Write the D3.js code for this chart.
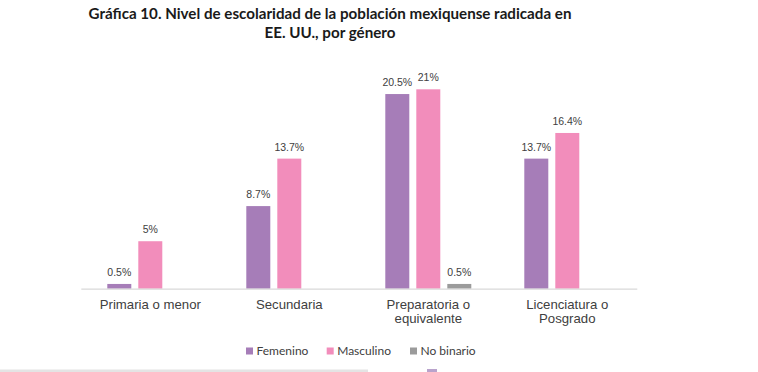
<!DOCTYPE html>
<html>
<head>
<meta charset="utf-8">
<script src="https://cdn.jsdelivr.net/npm/d3@7"></script>
<style>
  html, body { margin: 0; padding: 0; background: #fff; }
  svg { display: block; }
</style>
</head>
<body>
<div id="chart"></div>
<script>
const categories = [["Primaria o menor"], ["Secundaria"], ["Preparatoria o", "equivalente"], ["Licenciatura o", "Posgrado"]];
const seriesNames = ["Femenino", "Masculino", "No binario"];
const femenino = [0.5, 8.7, 20.5, 13.7];
const masculino = [5, 13.7, 21, 16.4];
const noBinario = [null, null, 0.5, null];
const valueLabels = [
  ["0.5%", "8.7%", "20.5%", "13.7%"],
  ["5%", "13.7%", "21%", "16.4%"],
  [null, null, "0.5%", null]
];
const titleLines = ["Gráfica 10. Nivel de escolaridad de la población mexiquense radicada en", "EE. UU., por género"];

const colors = ["#a67db8", "#f28dbb", "#9b9b9b"];
const seriesValues = [femenino, masculino, noBinario];

const W = 758, H = 372;
const svg = d3.select("#chart").append("svg").attr("width", W).attr("height", H);

// Title
const title = svg.append("text")
  .attr("x", 330).attr("text-anchor", "middle")
  .style("font-family", "Lato, 'Open Sans', sans-serif").style("font-weight", 700)
  .style("font-size", "15.5px").attr("fill", "#1a1a1a");
const t1 = title.append("tspan").attr("x", 330).attr("y", 18.5).text(titleLines[0]);
title.append("tspan").attr("x", 330).attr("y", 38).text(titleLines[1]);
// fit first line to the reference width
const w1 = t1.node().getComputedTextLength();
if (w1 > 0) title.style("font-size", (15.5 * 483 / w1).toFixed(2) + "px");

const left = 80.8, right = 636.8, baseY = 288.7;
const x0 = d3.scaleBand().domain(d3.range(categories.length)).range([left, right]).paddingInner(0).paddingOuter(0);
const x1 = d3.scaleBand().domain(d3.range(3)).range([0, 86]).paddingInner(0.226).paddingOuter(0);
const y = d3.scaleLinear().domain([0, 21]).range([baseY, baseY - 199.4]);

const plot = svg.append("g");

seriesValues.forEach((vals, s) => {
  const g = plot.append("g");
  vals.forEach((v, i) => {
    if (v == null) return;
    const bx = x0(i) + (x0.bandwidth() - 86) / 2 + x1(s);
    g.append("rect")
      .attr("x", bx).attr("y", y(v))
      .attr("width", x1.bandwidth()).attr("height", baseY - y(v))
      .attr("fill", colors[s]);
    g.append("text")
      .attr("x", bx + x1.bandwidth() / 2).attr("y", y(v) - 8)
      .attr("text-anchor", "middle")
      .style("font-family", "'Liberation Sans', Arial, sans-serif")
      .style("font-size", "10.5px").attr("fill", "#404040")
      .text(valueLabels[s][i]);
  });
});

// Axis
const axis = d3.axisBottom(x0).tickSize(0).tickFormat("");
const ax = svg.append("g").attr("transform", `translate(0,${baseY})`).call(axis);
ax.select(".domain").attr("stroke", "#d9d9d9").attr("stroke-width", 1.3);

categories.forEach((lines, i) => {
  const t = svg.append("text")
    .attr("text-anchor", "middle")
    .style("font-family", "'Liberation Sans', Arial, sans-serif")
    .style("font-size", "13.2px").attr("fill", "#404040");
  lines.forEach((ln, k) => {
    t.append("tspan").attr("x", x0(i) + x0.bandwidth() / 2).attr("y", 309.3 + k * 14).text(ln);
  });
});

// Legend
const legendX = [246, 326.7, 410];
const legend = svg.append("g");
seriesNames.forEach((n, s) => {
  legend.append("rect").attr("x", legendX[s]).attr("y", 347.5).attr("width", 7).attr("height", 7).attr("fill", colors[s]);
  legend.append("text").attr("x", legendX[s] + 10.5).attr("y", 354.5)
    .style("font-family", "Lato, 'Open Sans', sans-serif").style("font-size", "12px")
    .attr("fill", "#404040").text(n);
});

// Decorative bottom strip
svg.append("rect").attr("x", 0).attr("y", 369.5).attr("width", 368).attr("height", 3).attr("fill", "#e4e4e4");
svg.append("rect").attr("x", 427).attr("y", 369).attr("width", 10).attr("height", 3).attr("fill", "#b9a3cc");
</script>
</body>
</html>
